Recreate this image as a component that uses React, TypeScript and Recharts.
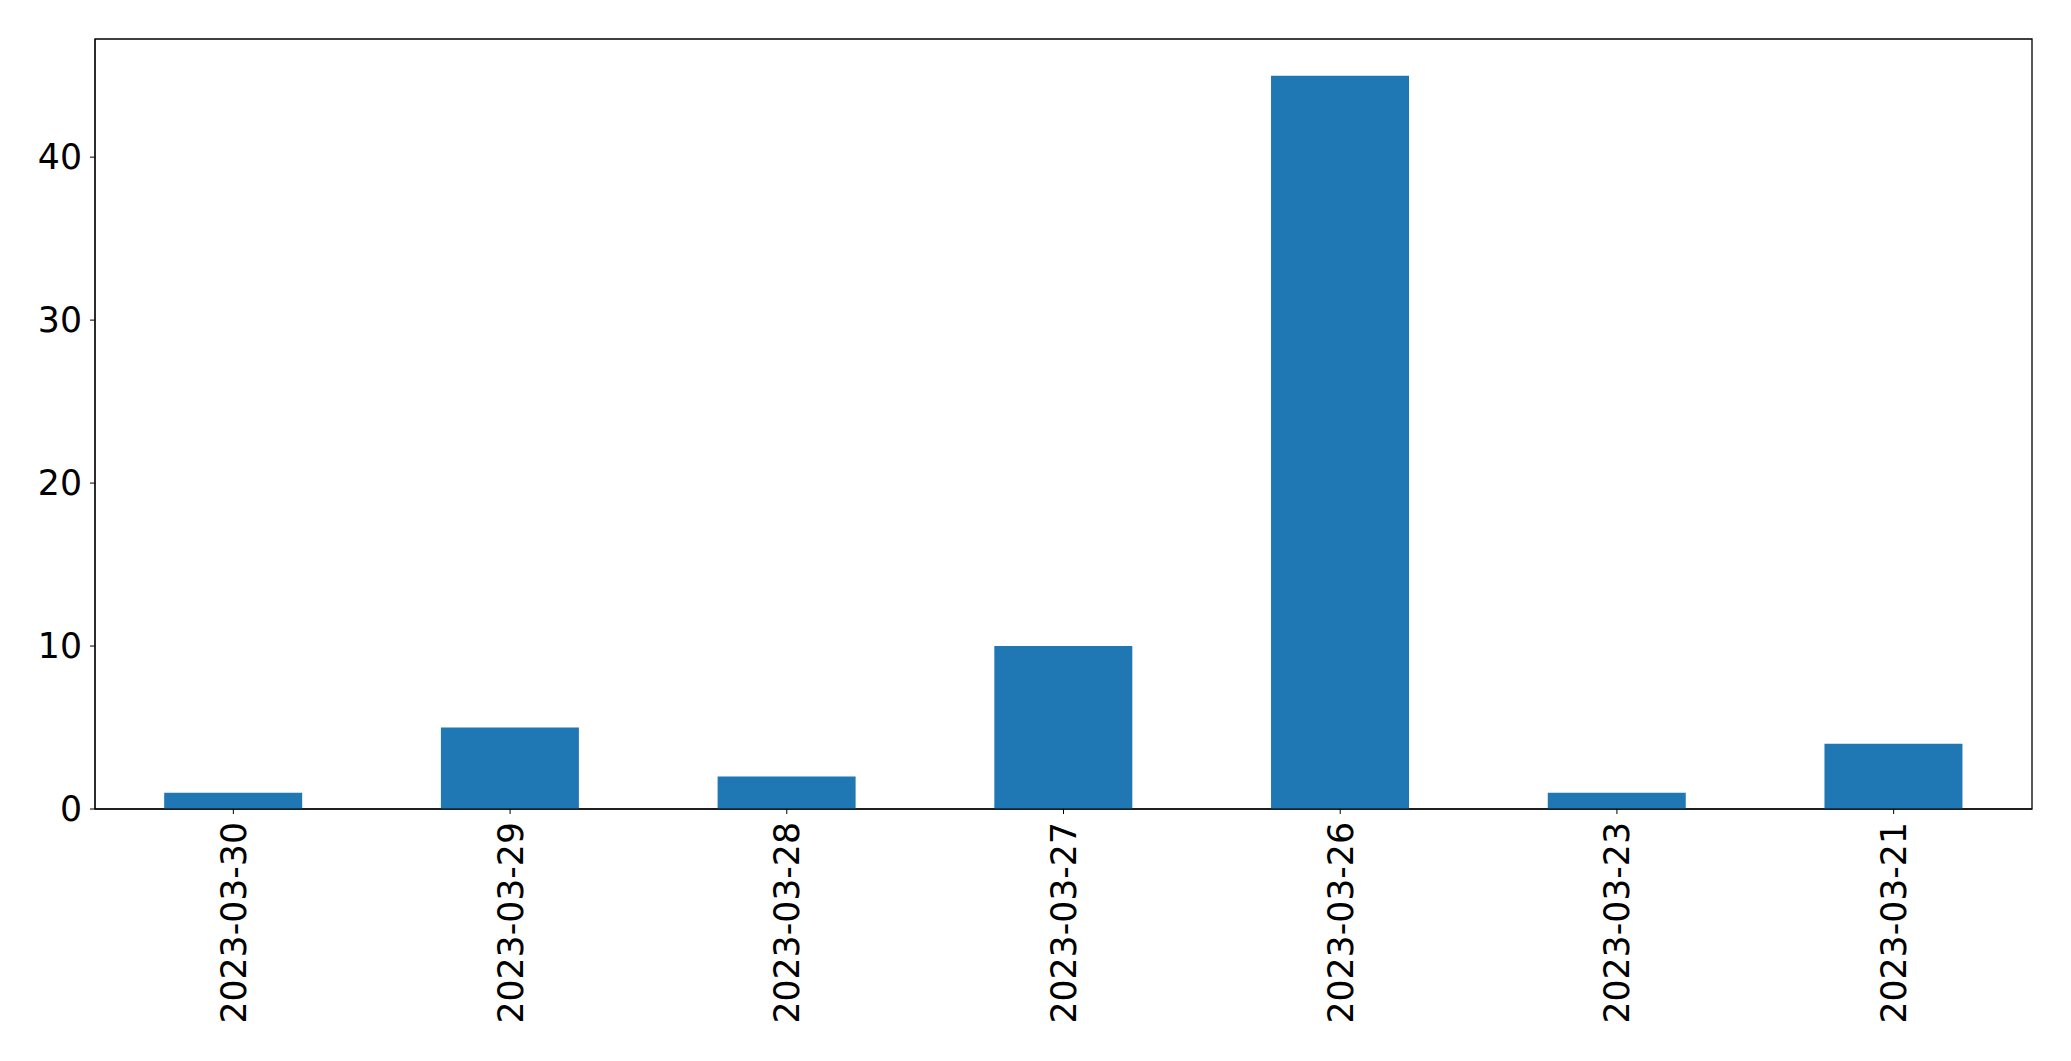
import { Bar, BarChart, ReferenceArea, XAxis, YAxis } from "recharts";

const dates = ["2023-03-30", "2023-03-29", "2023-03-28", "2023-03-27", "2023-03-26", "2023-03-23", "2023-03-21"];
const counts = [1, 5, 2, 10, 45, 1, 4];
const yTicks = [0, 10, 20, 30, 40];
const yMax = 47.25;

const data = dates.map((d, i) => ({ date: d, count: counts[i] }));

const font = "'DejaVu Sans', sans-serif";
const fontSize = 34.7;

function DateTick(props: any) {
  const { x, y, payload } = props;
  return (
    <text
      x={x}
      y={y}
      transform={`rotate(-90, ${x}, ${y})`}
      textAnchor="end"
      dy="0.36em"
      fontSize={fontSize}
      fontFamily={font}
      fill="#000"
    >
      {payload.value}
    </text>
  );
}

export default function App() {
  return (
    <div style={{ position: "fixed", left: 0, top: 0, background: "#fff" }}>
      <BarChart
        width={2071}
        height={1061}
        data={data}
        margin={{ top: 39, right: 39, left: 0, bottom: 0 }}
        barCategoryGap="25%"
      >
        <XAxis
          dataKey="date"
          interval={0}
          height={252}
          stroke="#000"
          tickSize={5}
          tickMargin={8}
          tick={<DateTick />}
        />
        <YAxis
          width={95}
          domain={[0, yMax]}
          ticks={yTicks}
          stroke="#000"
          tickSize={5}
          tickMargin={8}
          tick={{ fontSize, fontFamily: font, fill: "#000" }}
        />
        <Bar dataKey="count" fill="#1f77b4" isAnimationActive={false} />
        <ReferenceArea y1={0} y2={yMax} fill="none" stroke="#000" strokeWidth={1.3} ifOverflow="visible" />
      </BarChart>
    </div>
  );
}
